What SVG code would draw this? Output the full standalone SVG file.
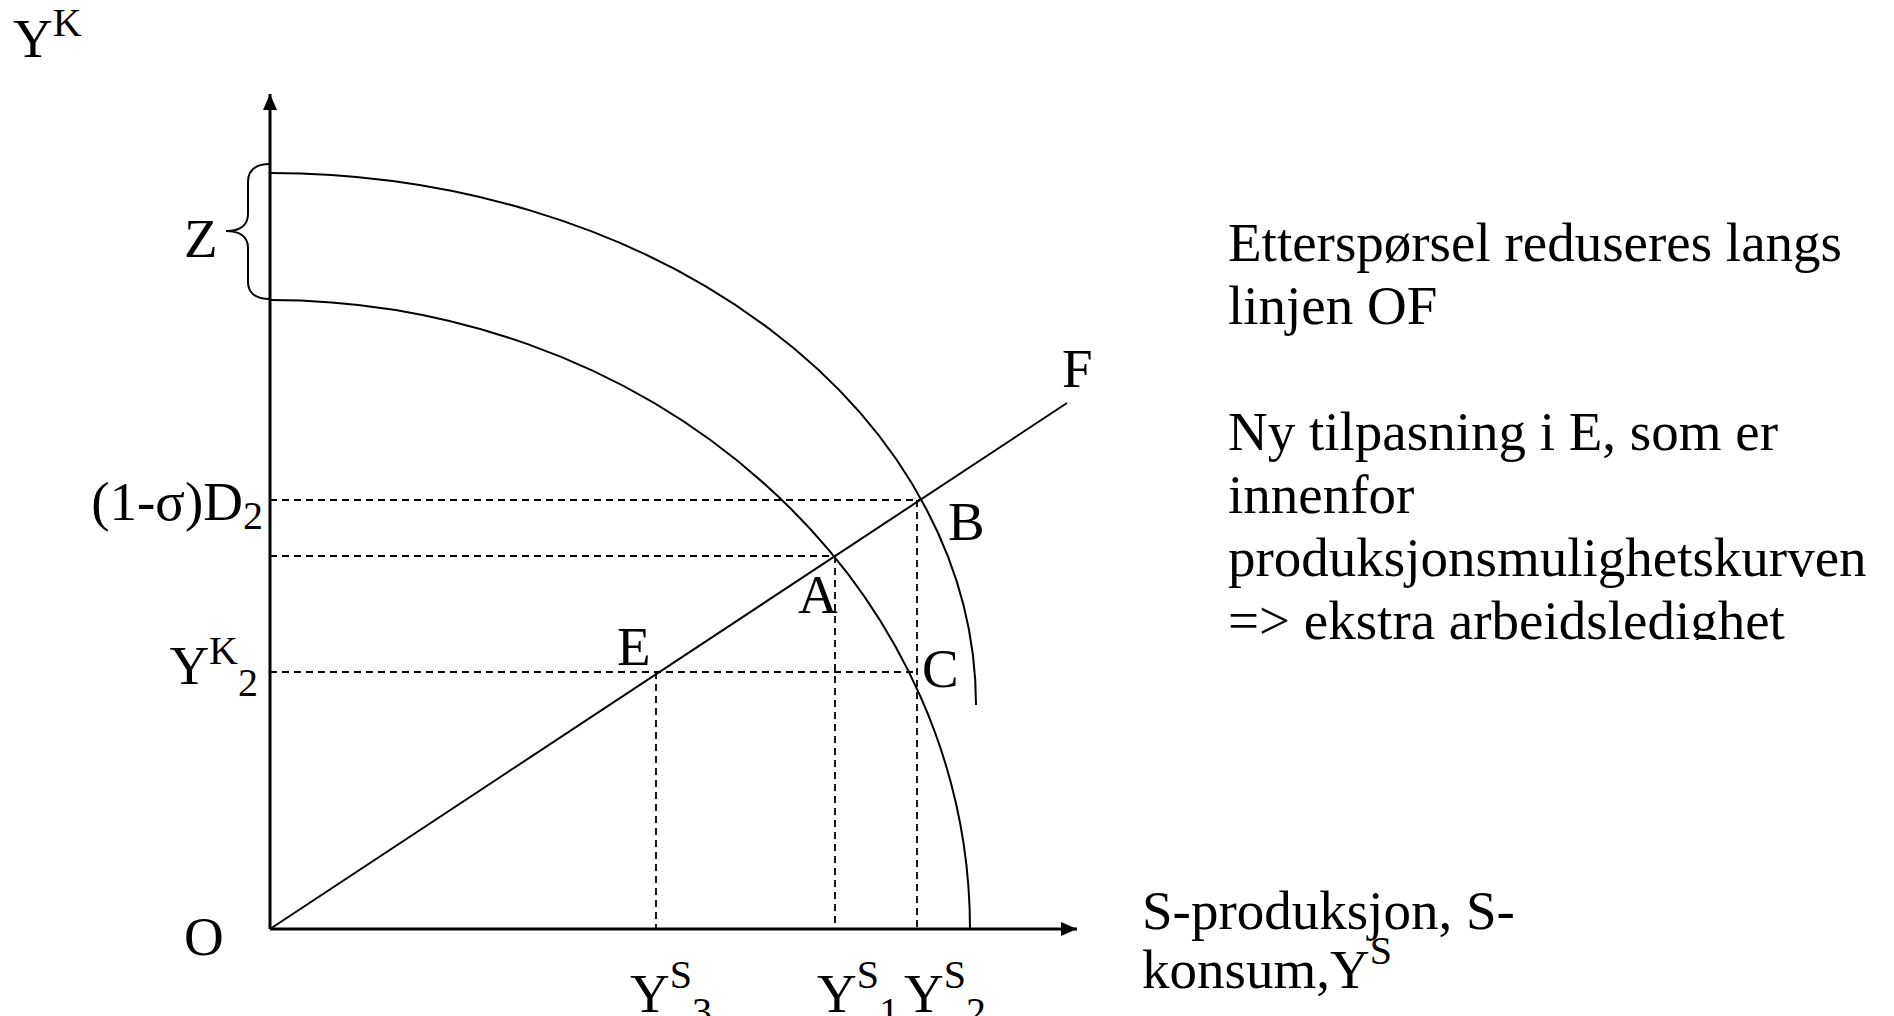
<svg xmlns="http://www.w3.org/2000/svg" width="1894" height="1016" viewBox="0 0 1894 1016">
<style>
  text { font-family: "Liberation Serif", "Times New Roman", serif; font-size: 55px; fill: #000; }
  .sm { font-size: 40px; }
  .axis { stroke: #000; stroke-width: 3; fill: none; }
  .curve { stroke: #000; stroke-width: 2; fill: none; }
  .dash { stroke: #000; stroke-width: 1.8; fill: none; stroke-dasharray: 7 5; }
</style>
<defs>
  <marker id="arrow" viewBox="0 0 16 14" refX="16" refY="7" markerWidth="16" markerHeight="14" markerUnits="userSpaceOnUse" orient="auto">
    <path d="M0,0 L16,7 L0,14 z" fill="#000"/>
  </marker>
  <clipPath id="textclip">
    <rect x="1200" y="180" width="694" height="460"/>
  </clipPath>
</defs>
<rect width="1894" height="1016" fill="#fff"/>

<g id="connectors">
  <path id="y-axis" class="axis" d="M270,929 L270,94" marker-end="url(#arrow)"/>
  <path id="x-axis" class="axis" d="M270,929 L1077,929" marker-end="url(#arrow)"/>
  <path id="ppf-outer" class="curve" d="M270,173 A706,532 0 0 1 976,705"/>
  <path id="ppf-inner" class="curve" d="M270,300 A700,629 0 0 1 970,929"/>
  <path id="line-OF" class="curve" d="M270,929 L1067,403"/>
  <path id="brace-Z" class="curve" d="M270,164 C256,164 248,170 248,182 L248,214 C248,225 240,231 226,231 C240,231 248,237 248,248 L248,282 C248,293 256,299 270,299"/>
  <path class="dash" d="M270,500 H920"/>
  <path class="dash" d="M270,556 H835"/>
  <path class="dash" d="M270,672 H917"/>
  <path class="dash" d="M656,672 V929"/>
  <path class="dash" d="M835,556 V929"/>
  <path class="dash" d="M917,500 V929"/>
</g>

<g id="label-YK"><text x="13" y="57">Y<tspan class="sm" dy="-21">K</tspan></text></g>
<g id="label-Z"><text x="184" y="257">Z</text></g>
<g id="label-D2"><text x="263" y="520" text-anchor="end">(1-σ)D<tspan class="sm" dy="9">2</tspan></text></g>
<g id="label-YK2"><text x="258" y="684" text-anchor="end">Y<tspan class="sm" dy="-20">K</tspan><tspan class="sm" dy="32">2</tspan></text></g>
<g id="node-O"><text x="184" y="955">O</text></g>
<g id="node-E"><text x="617" y="665">E</text></g>
<g id="node-A"><text x="798" y="613">A</text></g>
<g id="node-B"><text x="948" y="540">B</text></g>
<g id="node-C"><text x="922" y="687">C</text></g>
<g id="node-F"><text x="1062" y="387">F</text></g>
<g id="label-YS3"><text x="630" y="1012">Y<tspan class="sm" dy="-24">S</tspan><tspan class="sm" dy="37">3</tspan></text></g>
<g id="label-YS1"><text x="817" y="1012">Y<tspan class="sm" dy="-24">S</tspan><tspan class="sm" dy="37">1</tspan></text></g>
<g id="label-YS2"><text x="904" y="1012">Y<tspan class="sm" dy="-24">S</tspan><tspan class="sm" dy="37">2</tspan></text></g>
<g id="label-xaxis">
  <text x="1142" y="929">S-produksjon, S-</text>
  <text x="1142" y="988">konsum,Y<tspan class="sm" dy="-24">S</tspan></text>
</g>
<g id="note" clip-path="url(#textclip)">
  <text x="1228" y="261">Etterspørsel reduseres langs</text>
  <text x="1228" y="324">linjen OF</text>
  <text x="1228" y="450">Ny tilpasning i E, som er</text>
  <text x="1228" y="513">innenfor</text>
  <text x="1228" y="576">produksjonsmulighetskurven</text>
  <text x="1228" y="639">=&gt; ekstra arbeidsledighet</text>
</g>
</svg>
